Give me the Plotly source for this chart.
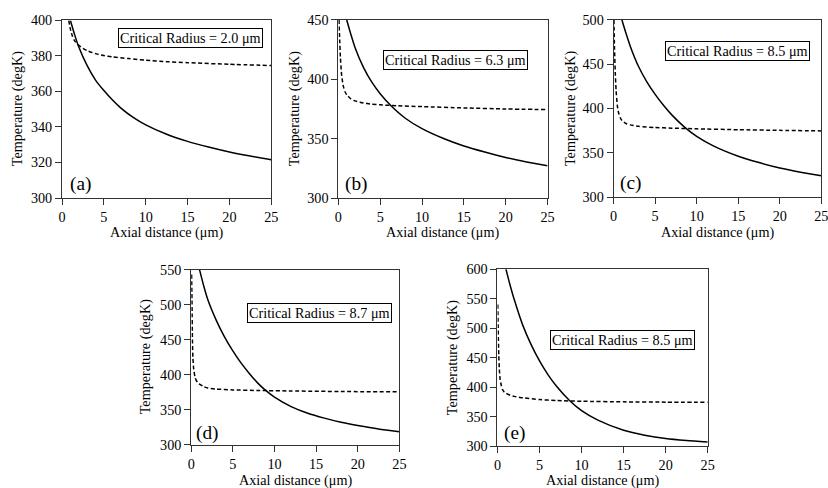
import plotly.graph_objects as go

# ---------------- data ----------------
panel_labels = ["(a)", "(b)", "(c)", "(d)", "(e)"]
critical_radius = [2.0, 6.3, 8.5, 8.7, 8.5]
y_max = [400, 450, 500, 550, 600]
y_step = [20, 50, 50, 50, 50]
x_ticks = [0, 5, 10, 15, 20, 25]

a_solid_x = [1.0, 1.5, 2, 3, 4, 5, 6, 7, 8.5, 10, 12.5, 15, 17.5, 20, 22.5, 25]
a_solid_T = [400, 392, 385, 374.5, 366.4, 360.5, 355.3, 350.8, 345.4, 341.2, 335.9, 331.9, 328.7, 325.9, 323.6, 321.6]
a_dash_x = [0.8, 1.0, 1.25, 1.5, 2, 2.5, 3, 4, 5, 6, 8, 10, 12.5, 15, 20, 25]
a_dash_T = [400, 395, 391, 388.5, 386, 384.3, 383, 381.3, 380.2, 379.5, 378.5, 377.6, 376.8, 376.2, 375.3, 374.6]

b_solid_x = [1, 1.5, 2, 3, 4, 5, 6.3, 8, 10, 12.5, 15, 17.5, 20, 22.5, 25]
b_solid_T = [450, 437.8, 426.6, 410.1, 397.6, 387.9, 377.7, 367.2, 358.4, 350.3, 343.8, 338.7, 334.1, 330.4, 327.1]
b_dash_x = [0.08, 0.15, 0.25, 0.4, 0.6, 0.8, 1, 1.5, 2, 3, 4, 5, 7, 10, 15, 20, 25]
b_dash_T = [450, 435, 418, 403, 394, 389.5, 387, 383.5, 381.8, 380, 379.1, 378.5, 377.7, 377, 375.9, 375, 374.5]

c_solid_x = [1, 1.5, 2, 3, 4, 5, 6, 7, 8.5, 10, 12, 15, 17.5, 20, 22.5, 25]
c_solid_T = [500, 484.6, 470.4, 447.4, 430.1, 415.9, 403.6, 392.8, 379.3, 368.5, 357.8, 346.1, 338.9, 332.8, 328.1, 324.1]
c_dash_x = [0.04, 0.1, 0.2, 0.3, 0.45, 0.6, 0.8, 1, 1.5, 2, 3, 5, 7, 10, 15, 20, 25]
c_dash_T = [500, 470, 440, 420, 403, 395, 389.5, 386.5, 383, 381.5, 379.8, 378.5, 377.8, 377, 376, 375.3, 374.7]

d_solid_x = [1, 1.5, 2, 3, 4, 5, 6, 7, 8, 8.8, 10, 12, 14, 16, 18, 20, 22.5, 25]
d_solid_T = [550, 527, 507, 478, 454, 434, 416.5, 401.5, 388, 379, 368, 354.5, 345, 338, 332, 327.5, 322.5, 318.5]
d_dash_x = [0.05, 0.1, 0.15, 0.2, 0.3, 0.45, 0.6, 0.8, 1, 1.5, 2, 3, 5, 8, 12, 18, 25]
d_dash_T = [543, 500, 450, 425, 408, 397, 392, 388.5, 386.5, 383, 381, 379.5, 378.3, 377.5, 376.8, 376, 375.5]

e_solid_x = [1, 1.5, 2, 3, 4, 5, 6, 7, 8.5, 10, 12, 15, 17.5, 20, 22.5, 25]
e_solid_T = [600, 572.7, 548, 505.2, 472.2, 444.6, 421.4, 401.9, 378.4, 360.3, 343.8, 327.1, 318.8, 313.1, 309.7, 307.2]
e_dash_x = [0.03, 0.08, 0.15, 0.22, 0.3, 0.45, 0.6, 0.8, 1, 1.5, 2, 3, 5, 7, 10, 15, 20, 25]
e_dash_T = [540, 500, 455, 430, 415, 403, 396, 392, 390, 386.5, 384.5, 382, 379, 377.5, 376.2, 375.2, 374.7, 374.4]

solid_x = [a_solid_x, b_solid_x, c_solid_x, d_solid_x, e_solid_x]
solid_T = [a_solid_T, b_solid_T, c_solid_T, d_solid_T, e_solid_T]
dash_x = [a_dash_x, b_dash_x, c_dash_x, d_dash_x, e_dash_x]
dash_T = [a_dash_T, b_dash_T, c_dash_T, d_dash_T, e_dash_T]

# ---------------- layout (target picture pixels) ----------------
# observed mapping picture = S * page + B ; we place items at the inverse
SX, BX, SY, BY = 0.986, 4.0, 0.973, 5.0
FW, FH = 846, 500
boxes = [(62, 271, 17.5, 196), (338, 547, 17, 196), (613, 820.5, 17, 195),
         (191, 399, 268, 444), (497, 707, 267.5, 445.5)]
ytitle_x = [17, 295, 570, 145, 452]
xtitle_y = [231, 231, 231, 480, 480]
crit_pos = [(190.5, 35.5), (455.5, 57.5), (737, 48.5), (319, 312), (621.5, 339)]
label_pos = [(80, 182), (356, 182), (630, 181), (207, 432), (514, 432)]


def px(x):
    return ((x - BX) / SX) / FW


def py(y):
    return 1 - ((y - BY) / SY) / FH


FONT = "Liberation Serif"
FS = 14.2
AX_COLOR = "#333333"

fig = go.Figure()
annotations = []
for i in range(5):
    n = "" if i == 0 else str(i + 1)
    l, r, t, b = boxes[i]
    fig.add_trace(go.Scatter(x=solid_x[i], y=solid_T[i], xaxis="x" + n, yaxis="y" + n,
                             mode="lines", showlegend=False, hoverinfo="skip",
                             line=dict(color="black", width=1.5, shape="spline", smoothing=0.6)))
    fig.add_trace(go.Scatter(x=dash_x[i], y=dash_T[i], xaxis="x" + n, yaxis="y" + n,
                             mode="lines", showlegend=False, hoverinfo="skip",
                             line=dict(color="black", width=1.5, dash="4px,2.5px",
                                       shape="spline", smoothing=0.5)))
    common = dict(showline=True, linecolor=AX_COLOR, linewidth=1, mirror=True,
                  ticks="outside", ticklen=6, tickcolor=AX_COLOR, showgrid=False,
                  zeroline=False, tickfont=dict(family=FONT, size=FS, color="black"))
    fig.layout["xaxis" + n] = dict(domain=[px(l), px(r)], anchor="y" + n, range=[0, 25],
                                   tickvals=x_ticks, **common)
    fig.layout["yaxis" + n] = dict(domain=[py(b), py(t)], anchor="x" + n,
                                   range=[300, y_max[i]],
                                   tickvals=list(range(300, y_max[i] + 1, y_step[i])), **common)
    annotations.append(dict(text="Axial distance (μm)", x=px((l + r) / 2), y=py(xtitle_y[i]),
                            xref="paper", yref="paper", showarrow=False, xanchor="center",
                            yanchor="middle", font=dict(family=FONT, size=FS, color="black")))
    annotations.append(dict(text="Temperature (degK)", x=px(ytitle_x[i]), y=py((t + b) / 2),
                            xref="paper", yref="paper", showarrow=False, textangle=-90,
                            xanchor="center", yanchor="middle",
                            font=dict(family=FONT, size=FS, color="black")))
    cx, cy = crit_pos[i]
    annotations.append(dict(text="Critical Radius = %.1f μm" % critical_radius[i],
                            x=px(cx), y=py(cy), xref="paper", yref="paper", showarrow=False,
                            xanchor="center", yanchor="middle", bordercolor="black",
                            borderwidth=1, borderpad=1, bgcolor="white",
                            font=dict(family=FONT, size=FS, color="black")))
    lx, ly = label_pos[i]
    annotations.append(dict(text=panel_labels[i], x=px(lx), y=py(ly), xref="paper",
                            yref="paper", showarrow=False, xanchor="center", yanchor="middle",
                            font=dict(family=FONT, size=19.3, color="black")))

fig.update_layout(width=FW, height=FH, margin=dict(l=0, r=0, t=0, b=0),
                  paper_bgcolor="white", plot_bgcolor="white",
                  font=dict(family=FONT, color="black"),
                  annotations=annotations, showlegend=False)
fig.write_html("out.html", config={"displayModeBar": False},
               post_script="document.body.style.margin='0';")
